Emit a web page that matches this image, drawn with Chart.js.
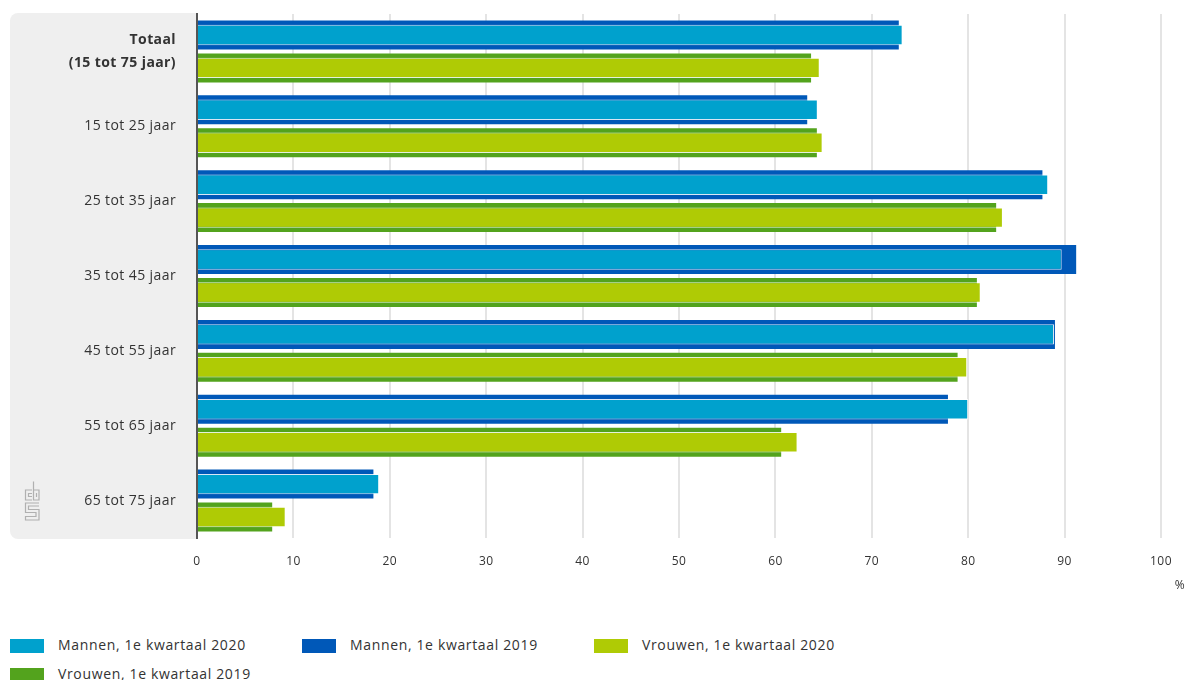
<!DOCTYPE html>
<html>
<head>
<meta charset="utf-8">
<script src="https://cdn.jsdelivr.net/npm/chart.js@4/dist/chart.umd.min.js"></script>
<style>
  body { margin: 0; background: #fff; font-family: 'Open Sans', sans-serif; }
  #wrap { position: absolute; left: 0; top: 0; width: 1189px; height: 600px; }
  #legend { position: absolute; left: 0; top: 630px; width: 1189px; height: 50px; }
  .item { position: absolute; height: 16px; font-size: 14px; letter-spacing: 0.65px; color: #333; white-space: nowrap; }
  .item span.box { position: absolute; left: 0; top: 1px; width: 34px; height: 14px; }
  .item span.txt { position: absolute; left: 48px; top: -3px; }
</style>
</head>
<body>
<div id="wrap"><canvas id="myChart"></canvas></div>
<div id="legend"></div>
<script>
// Data
const categories = [
  ['Totaal', '(15 tot 75 jaar)'],
  '15 tot 25 jaar',
  '25 tot 35 jaar',
  '35 tot 45 jaar',
  '45 tot 55 jaar',
  '55 tot 65 jaar',
  '65 tot 75 jaar'
];
const men2020 = [73.2, 64.4, 88.3, 89.7, 88.9, 80.0, 18.9];
const men2019 = [72.8, 63.3, 87.7, 91.2, 89.0, 77.9, 18.3];
const women2020 = [64.6, 64.9, 83.6, 81.3, 79.9, 62.3, 9.2];
const women2019 = [63.7, 64.3, 82.9, 80.9, 78.9, 60.6, 7.8];
const xTicks = [0, 10, 20, 30, 40, 50, 60, 70, 80, 90, 100];

const FONT = "'Open Sans', sans-serif";

// gray label panel + cbs logo + % unit
const panelPlugin = {
  id: 'panel',
  beforeDraw(chart) {
    const ctx = chart.ctx;
    const a = chart.chartArea;
    ctx.letterSpacing = '0.4px';
    ctx.save();
    ctx.fillStyle = '#efefef';
    ctx.beginPath();
    ctx.roundRect(10, a.top - 1, a.left - 10, a.bottom - a.top + 2, [8, 0, 0, 8]);
    ctx.fill();

    // rough cbs logo
    ctx.strokeStyle = '#b0b0b0';
    ctx.lineWidth = 1.2;
    ctx.beginPath();
    // c
    ctx.moveTo(32, 490); ctx.lineTo(25.5, 490); ctx.lineTo(25.5, 500); ctx.lineTo(32, 500);
    ctx.moveTo(32, 493.5); ctx.lineTo(28.5, 493.5); ctx.lineTo(28.5, 496.5); ctx.lineTo(32, 496.5);
    // b
    ctx.moveTo(33.5, 481.5); ctx.lineTo(33.5, 500); ctx.lineTo(39, 500); ctx.lineTo(39, 490); ctx.lineTo(33.5, 490);
    ctx.moveTo(36.5, 493); ctx.lineTo(36.5, 497);
    // s
    ctx.moveTo(39, 503); ctx.lineTo(25.5, 503); ctx.lineTo(25.5, 512.5); ctx.lineTo(36, 512.5);
    ctx.lineTo(36, 516.5); ctx.lineTo(25.5, 516.5); ctx.lineTo(25.5, 520); ctx.lineTo(39, 520);
    ctx.lineTo(39, 509.5); ctx.lineTo(28.5, 509.5); ctx.lineTo(28.5, 506); ctx.lineTo(39, 506);
    ctx.stroke();
    ctx.restore();
  },
  afterDraw(chart) {
    const ctx = chart.ctx;
    ctx.save();
    ctx.fillStyle = '#333';
    ctx.font = '12px ' + FONT;
    ctx.textAlign = 'center';
    ctx.textBaseline = 'middle';
    ctx.fillText('%', 1180, 586);
    ctx.restore();
  }
};

const datasets = [
  {
    label: 'Mannen, 1e kwartaal 2020',
    data: men2020,
    backgroundColor: '#00a1cd',
    borderColor: 'rgba(255,255,255,0.85)',
    borderWidth: 1,
    stack: 'mannen',
    barPercentage: 0.62,
    categoryPercentage: 0.88
  },
  {
    label: 'Mannen, 1e kwartaal 2019',
    data: men2019,
    backgroundColor: '#0058b8',
    borderWidth: 0,
    stack: 'mannen',
    barPercentage: 0.88,
    categoryPercentage: 0.88
  },
  {
    label: 'Vrouwen, 1e kwartaal 2020',
    data: women2020,
    backgroundColor: '#afcb05',
    borderColor: 'rgba(255,255,255,0.85)',
    borderWidth: 1,
    stack: 'vrouwen',
    barPercentage: 0.62,
    categoryPercentage: 0.88
  },
  {
    label: 'Vrouwen, 1e kwartaal 2019',
    data: women2019,
    backgroundColor: '#53a31d',
    borderWidth: 0,
    stack: 'vrouwen',
    barPercentage: 0.88,
    categoryPercentage: 0.88
  }
];

const chart = new Chart(document.getElementById('myChart'), {
  type: 'bar',
  data: { labels: categories, datasets: datasets },
  options: {
    indexAxis: 'y',
    responsive: true,
    maintainAspectRatio: false,
    animation: false,
    layout: { padding: { left: 10, top: 14, right: 28, bottom: 0 } },
    plugins: {
      legend: { display: false },
      tooltip: { enabled: false }
    },
    scales: {
      x: {
        stacked: false,
        min: 0,
        max: 100,
        afterBuildTicks: (scale) => { scale.ticks = xTicks.map(v => ({ value: v })); },
        afterFit: (scale) => { scale.height = 62; },
        grid: {
          color: (c) => c.index === 0 ? 'rgba(0,0,0,0)' : '#e4e4e4',
          lineWidth: 2,
          drawTicks: false
        },
        border: { display: false },
        ticks: { color: '#333', padding: 16, font: { family: FONT, size: 12 } }
      },
      y: {
        afterFit: (scale) => {
          scale.width = 187;
          scale.paddingTop = 0;
          scale.paddingBottom = 0;
        },
        grid: { display: false, drawTicks: false },
        border: { display: true, color: '#555', width: 2 },
        ticks: {
          color: '#333',
          padding: 21,
          font: (c) => ({
            family: FONT,
            size: 14,
            weight: c.index === 0 ? 'bold' : 'normal',
            lineHeight: 1.6
          })
        }
      }
    }
  },
  plugins: [panelPlugin]
});

// Legend (3 columns)
const legend = document.getElementById('legend');
datasets.forEach((ds, i) => {
  const col = i % 3;
  const row = Math.floor(i / 3);
  const item = document.createElement('div');
  item.className = 'item';
  item.style.left = (10 + col * 292) + 'px';
  item.style.top = (8 + row * 29) + 'px';
  item.innerHTML = '<span class="box" style="background:' + ds.backgroundColor + '"></span>' +
    '<span class="txt">' + ds.label + '</span>';
  legend.appendChild(item);
});
</script>
</body>
</html>
